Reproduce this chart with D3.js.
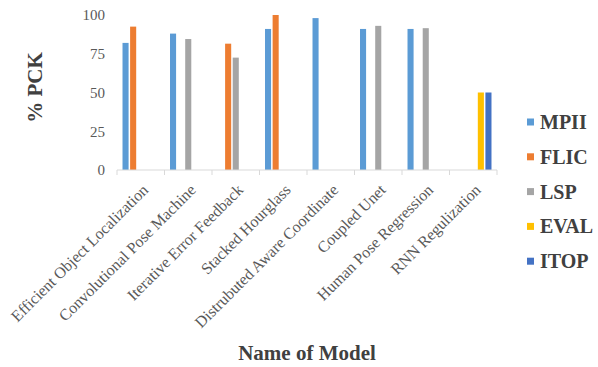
<!DOCTYPE html>
<html>
<head>
<meta charset="utf-8">
<script src="https://cdn.jsdelivr.net/npm/d3@7"></script>
<style>
  body { margin: 0; background: #fff; }
  svg { display: block; }
</style>
</head>
<body>
<div class="chart"></div>
<script>
// Models on the x axis
const categories = [
    'Efficient Object Localization',
    'Convolutional Pose Machine',
    'Iterative Error Feedback',
    'Stacked Hourglass',
    'Distrubuted Aware Coordinate',
    'Coupled Unet',
    'Human Pose Regression',
    'RNN Regulization'
];

// % PCK per dataset (null = not reported)
const seriesNames = ['MPII', 'FLIC', 'LSP', 'EVAL', 'ITOP'];
const mpii = [82, 88, null, 91, 98, 91, 91, null];
const flic = [92.5, null, 81.5, 100, null, null, null, null];
const lsp = [null, 84.5, 72.5, null, null, 93, 91.5, null];
const evalSet = [null, null, null, null, null, null, null, 50];
const itop = [null, null, null, null, null, null, null, 50];
const seriesValues = [mpii, flic, lsp, evalSet, itop];
const colors = ['#5B9BD5', '#ED7D31', '#A5A5A5', '#FFC000', '#4472C4'];

const yTicks = [0, 25, 50, 75, 100];

const W = 598, H = 367;
const margin = {top: 15, right: 101, bottom: 197, left: 117};
const width = W - margin.left - margin.right;
const height = H - margin.top - margin.bottom;
const serif = '"Liberation Serif", "Times New Roman", serif';

const svg = d3.select('.chart').append('svg')
    .attr('width', W)
    .attr('height', H);
const g = svg.append('g')
    .attr('transform', 'translate(' + margin.left + ',' + margin.top + ')');

const x0 = d3.scaleBand()
    .domain(categories)
    .range([0, width]);
const x1 = d3.scaleBand()
    .domain(seriesNames)
    .range([x0.bandwidth() * 0.1, x0.bandwidth() * 0.9])
    .paddingInner(0.2)
    .paddingOuter(0.1);
const y = d3.scaleLinear()
    .domain([0, 100])
    .range([height, 0]);

// bars
const rows = [];
categories.forEach((c, i) => {
    seriesNames.forEach((s, j) => {
        const v = seriesValues[j][i];
        if (v != null) rows.push({cat: c, series: s, value: v, color: colors[j]});
    });
});
g.selectAll('rect.bar')
    .data(rows)
    .join('rect')
    .attr('class', 'bar')
    .attr('x', d => x0(d.cat) + x1(d.series))
    .attr('y', d => y(d.value))
    .attr('width', x1.bandwidth())
    .attr('height', d => height - y(d.value))
    .attr('fill', d => d.color);

// y axis labels only
const yAxis = g.append('g')
    .call(d3.axisLeft(y).tickValues(yTicks).tickSize(0).tickPadding(12));
yAxis.select('.domain').remove();
yAxis.selectAll('text')
    .attr('font-family', serif)
    .attr('font-size', 15)
    .attr('fill', '#595959');

// x axis with category-boundary ticks
const xAxisG = g.append('g')
    .attr('transform', 'translate(0,' + height + ')');
xAxisG.append('line')
    .attr('x1', 0).attr('x2', width)
    .attr('stroke', '#d9d9d9');
xAxisG.selectAll('line.tick')
    .data(categories.concat(['__end']))
    .join('line')
    .attr('class', 'tick')
    .attr('x1', (d, i) => i * x0.step())
    .attr('x2', (d, i) => i * x0.step())
    .attr('y1', 0).attr('y2', 5)
    .attr('stroke', '#d9d9d9');
xAxisG.selectAll('text')
    .data(categories)
    .join('text')
    .attr('transform', d => 'translate(' + (x0(d) + x0.bandwidth() / 2 + 4.5) + ',17) rotate(-45)')
    .attr('text-anchor', 'end')
    .attr('dy', '0.35em')
    .attr('font-family', serif)
    .attr('font-size', 16)
    .attr('fill', '#595959')
    .text(d => d);

// axis titles
svg.append('text')
    .attr('transform', 'translate(35,' + (margin.top + height / 2 - 5) + ') rotate(-90)')
    .attr('text-anchor', 'middle')
    .attr('dy', '0.35em')
    .attr('font-family', serif)
    .attr('font-weight', 'bold')
    .attr('font-size', 21)
    .attr('fill', '#404040')
    .text('% PCK');
svg.append('text')
    .attr('x', margin.left + width / 2)
    .attr('y', 353)
    .attr('text-anchor', 'middle')
    .attr('dy', '0.35em')
    .attr('font-family', serif)
    .attr('font-weight', 'bold')
    .attr('font-size', 21)
    .attr('fill', '#404040')
    .text('Name of Model');

// legend
const legend = svg.append('g')
    .attr('transform', 'translate(527,122)');
const item = legend.selectAll('g')
    .data(seriesNames)
    .join('g')
    .attr('transform', (d, i) => 'translate(0,' + (i * 34.8) + ')');
item.append('rect')
    .attr('x', 0).attr('y', -3.5)
    .attr('width', 7).attr('height', 7)
    .attr('fill', (d, i) => colors[i]);
item.append('text')
    .attr('x', 13)
    .attr('dy', '0.35em')
    .attr('font-family', serif)
    .attr('font-weight', 'bold')
    .attr('font-size', 20)
    .attr('fill', '#404040')
    .text(d => d);
</script>
</body>
</html>
